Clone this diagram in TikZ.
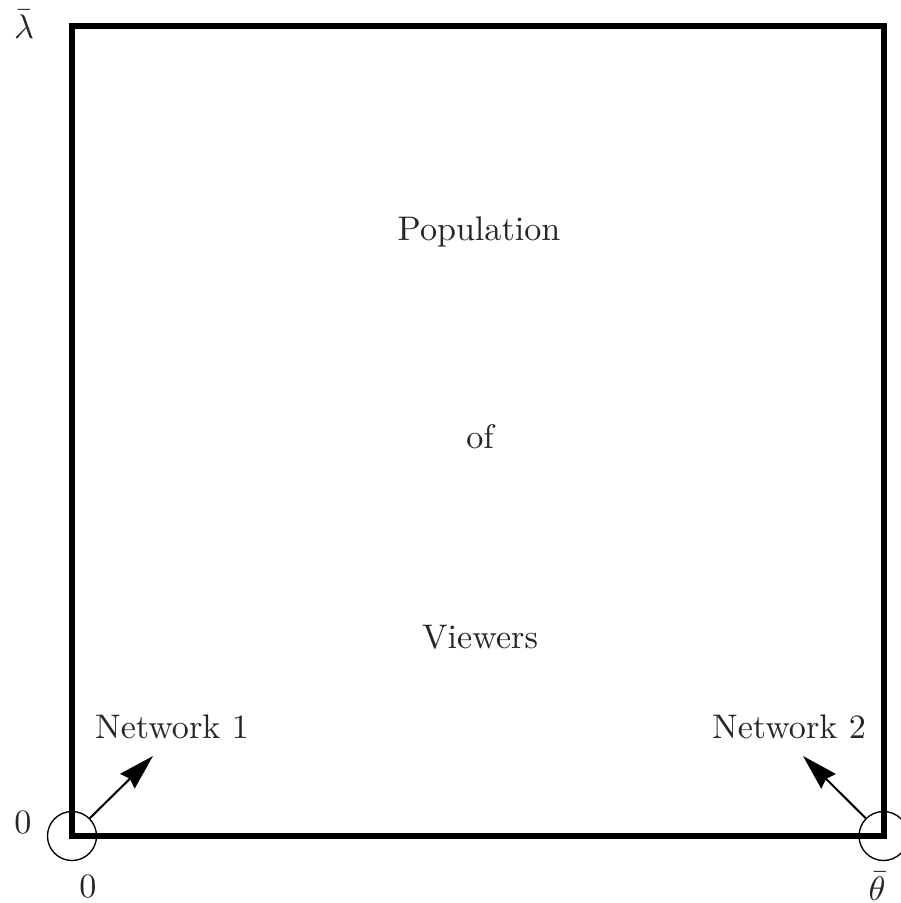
\documentclass[tikz,border=0pt]{standalone}
\usetikzlibrary{arrows.meta}
\begin{document}
\begin{tikzpicture}[x=0.0103cm, y=-0.0103cm,
  every node/.style={inner sep=0pt, text=black!85},
  corner/.style={circle, draw=black, thin, minimum size=0.505cm},
  pointer/.style={-{Stealth[length=10.5pt,width=6pt,inset=1pt]}, semithick}]

     \useasboundingbox (0,0) rectangle (900,903);

     % Region of viewers
     \draw[line width=1.75pt] (72,26) rectangle (883.5,836);

     % Text inside the square
     \node (pop) at (479,232) {Population};
     \node (of) at (480,437) {of};
     \node (view) at (480,637) {Viewers};

     % Axis labels
     \node (lam) at (24,24) {$\bar{\lambda}$};
     \node (y0) at (23,822) {$0$};
     \node (x0) at (88,886) {$0$};
     \node (th) at (877,886) {$\bar{\theta}$};

     % Networks at the two corners
     \node[corner] (c1) at (72,836) {};
     \node[corner] (c2) at (883.5,836) {};
     \node (net1) at (172,727) {Network 1};
     \node (net2) at (789,727) {Network 2};
     \coordinate (t1) at (153,756);
     \coordinate (t2) at (803,756);

     % Arrows
     \draw[pointer] (c1.north east) -- (t1);
     \draw[pointer] (c2.north west) -- (t2);

   \end{tikzpicture}
\end{document}
